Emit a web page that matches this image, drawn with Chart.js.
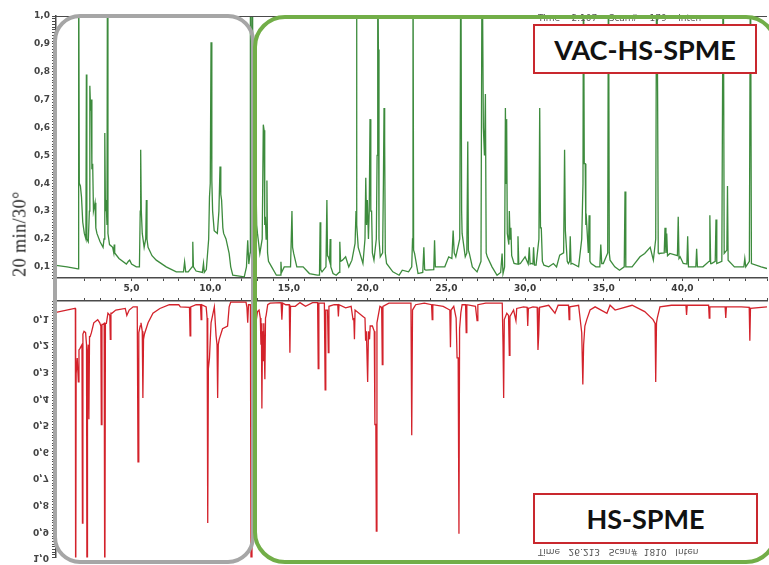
<!DOCTYPE html>
<html>
<head>
<meta charset="utf-8">
<script src="https://cdn.jsdelivr.net/npm/chart.js@4.4.1/dist/chart.umd.min.js"></script>
<style>
    body { margin: 0; background: #fff; }
    #stage { position: relative; width: 769px; height: 565px; overflow: hidden; background: #fff; }
    canvas { position: absolute; left: 0; }
    #vacChart { top: 0; }
    #hsChart { top: 290px; }
    .frame { position: absolute; box-sizing: border-box; pointer-events: none; }
    .grey { left: 53px; top: 14px; width: 202px; height: 550px; border: 4px solid #a6a6a6; border-radius: 27px; }
    .green { left: 253px; top: 15px; width: 525px; height: 549px; border: 4px solid #72ae48; border-radius: 32px; }
    .tag { position: absolute; box-sizing: border-box; background: #fff; border: 2px solid #c9282e;
           font-family: Lato, "Open Sans", sans-serif; font-weight: bold; font-size: 27px; color: #111;
           display: flex; align-items: center; justify-content: center; }
    .status { position: absolute; font-family: "DejaVu Sans", sans-serif; font-size: 9px; color: #555; white-space: pre; }
    #method { position: absolute; left: 20px; top: 234px; transform: translate(-50%, -50%) rotate(-90deg);
              font-family: "Liberation Serif", serif; font-size: 18px; color: #222; white-space: nowrap; letter-spacing: 0.5px; }
</style>
</head>
<body>
<div id="stage">
    <canvas id="vacChart" width="769" height="300"></canvas>
    <canvas id="hsChart" width="769" height="275"></canvas>
    <div class="status" style="left:538px; top:13px;">Time    2.107    Scan#    179    Inten</div>
    <div class="status" style="left:538px; top:547px; transform: scaleY(-1);">Time   26.213   Scan#  1810   Inten</div>
    <div class="tag" style="left:533px; top:24px; width:224px; height:50px;">VAC-HS-SPME</div>
    <div class="tag" style="left:533px; top:493px; width:225px; height:51px;">HS-SPME</div>
    <div class="frame grey"></div>
    <div class="frame green"></div>
    <div id="method">20 min/30°</div>
</div>
<script>
// retention time (min) and relative intensity; 1.3 = peak runs off scale
const vacTrace = [
    [0.2, 0.105], [0.9, 0.10], [1.6, 0.093], [1.63, 0.093], [1.65, 1.3], [1.68, 0.40], [1.75, 0.39],
    [1.82, 0.35], [1.9, 0.26], [2.0, 0.22], [2.1, 0.2], [2.13, 0.79], [2.16, 0.2], [2.25, 0.19],
    [2.32, 0.3], [2.35, 0.75], [2.4, 0.66], [2.44, 0.70], [2.48, 0.45], [2.53, 0.47], [2.58, 0.3],
    [2.68, 0.33], [2.73, 0.24], [2.8, 0.22], [3.0, 0.19], [3.19, 0.17], [3.25, 0.2], [3.3, 0.58],
    [3.34, 0.3], [3.38, 0.34], [3.44, 0.25], [3.47, 1.3], [3.5, 0.22], [3.6, 0.18], [3.8, 0.17],
    [3.87, 0.15], [3.9, 0.18], [3.93, 0.15], [4.2, 0.13], [4.67, 0.11], [4.8, 0.12], [4.88, 0.124],
    [5.0, 0.11], [5.3, 0.10], [5.5, 0.10], [5.55, 0.3], [5.58, 0.52], [5.62, 0.3], [5.68, 0.22],
    [5.8, 0.17], [5.9, 0.2], [5.94, 0.34], [5.98, 0.2], [6.05, 0.17], [6.3, 0.14], [6.57, 0.124],
    [7.2, 0.10], [7.84, 0.082], [8.3, 0.082], [8.37, 0.118], [8.44, 0.082], [8.6, 0.082], [8.85, 0.1],
    [8.89, 0.19], [8.93, 0.1], [9.1, 0.085], [9.5, 0.08], [9.57, 0.112], [9.62, 0.08], [9.75, 0.09],
    [9.9, 0.2], [9.95, 0.35], [10.0, 0.4], [10.05, 0.906], [10.1, 0.41], [10.15, 0.3], [10.25, 0.23],
    [10.45, 0.22], [10.55, 0.3], [10.62, 0.46], [10.67, 0.36], [10.72, 0.34], [10.8, 0.24],
    [10.85, 0.22], [11.0, 0.2], [11.2, 0.148], [11.3, 0.1], [11.43, 0.07], [12.16, 0.064], [12.3, 0.1],
    [12.38, 0.195], [12.45, 0.11], [12.53, 0.15], [12.55, 1.3], [12.6, 0.5], [12.65, 0.8], [12.68, 1.3],
    [12.72, 0.3], [12.85, 0.25], [12.9, 0.42], [12.95, 0.25], [13.0, 0.22], [13.15, 0.148], [13.3, 0.2],
    [13.37, 0.61], [13.42, 0.59], [13.46, 0.25], [13.5, 0.28], [13.55, 0.2], [13.6, 0.41], [13.64, 0.15],
    [13.7, 0.12], [13.9, 0.10], [14.2, 0.07], [14.45, 0.07], [14.49, 0.118], [14.53, 0.08], [14.7, 0.1],
    [15.1, 0.1], [15.19, 0.30], [15.23, 0.17], [15.3, 0.148], [15.5, 0.10], [15.9, 0.10], [16.3, 0.076],
    [16.8, 0.07], [16.94, 0.07], [16.98, 0.26], [17.02, 0.09], [17.1, 0.082], [17.35, 0.1], [17.41, 0.34],
    [17.45, 0.14], [17.5, 0.136], [17.58, 0.12], [17.62, 0.20], [17.66, 0.1], [17.8, 0.076], [18.0, 0.07],
    [18.18, 0.08], [18.23, 0.19], [18.28, 0.12], [18.4, 0.124], [18.6, 0.136], [18.8, 0.10], [19.0, 0.124],
    [19.2, 0.184], [19.26, 0.3], [19.29, 1.3], [19.32, 0.25], [19.4, 0.17], [19.7, 0.112], [19.83, 0.2],
    [19.88, 0.42], [19.93, 0.25], [19.98, 0.34], [20.05, 0.2], [20.1, 0.3], [20.15, 0.63], [20.2, 0.3],
    [20.25, 0.30], [20.3, 0.15], [20.4, 0.124], [20.55, 0.2], [20.6, 0.5], [20.64, 1.3], [20.68, 0.88],
    [20.72, 0.2], [20.8, 0.136], [20.95, 0.15], [21.0, 0.4], [21.04, 0.67], [21.08, 0.55], [21.12, 0.15],
    [21.2, 0.112], [21.6, 0.082], [22.0, 0.07], [22.2, 0.088], [22.6, 0.082], [22.8, 0.1], [22.85, 0.2],
    [22.88, 1.3], [22.92, 0.16], [22.98, 0.148], [23.2, 0.076], [23.5, 0.08], [23.57, 0.17], [23.62, 0.09],
    [23.7, 0.088], [24.2, 0.09], [24.25, 0.195], [24.3, 0.1], [24.4, 0.10], [24.9, 0.10], [25.15, 0.136],
    [25.35, 0.13], [25.43, 0.23], [25.5, 0.15], [25.6, 0.136], [25.85, 0.2], [25.92, 1.3], [25.97, 0.3],
    [26.0, 0.22], [26.2, 0.136], [26.3, 0.15], [26.36, 0.55], [26.4, 0.16], [26.46, 0.148], [26.65, 0.10],
    [26.95, 0.082], [27.2, 0.12], [27.27, 1.3], [27.35, 0.6], [27.42, 0.5], [27.48, 0.72], [27.53, 0.15],
    [27.6, 0.136], [27.9, 0.10], [28.22, 0.07], [28.45, 0.08], [28.54, 0.148], [28.6, 0.076], [28.7, 0.1],
    [28.75, 0.67], [28.8, 0.4], [28.83, 0.63], [28.87, 0.22], [28.9, 0.22], [28.97, 0.18], [29.0, 0.30],
    [29.05, 0.2], [29.1, 0.24], [29.15, 0.14], [29.3, 0.112], [29.5, 0.11], [29.55, 0.21], [29.6, 0.11],
    [29.7, 0.112], [30.0, 0.136], [30.2, 0.11], [30.27, 0.17], [30.32, 0.11], [30.4, 0.112], [30.5, 0.11],
    [30.54, 0.17], [30.6, 0.106], [30.7, 0.106], [30.88, 0.2], [30.93, 0.67], [30.98, 0.24], [31.03, 0.24],
    [31.1, 0.12], [31.2, 0.106], [31.5, 0.10], [31.8, 0.112], [32.0, 0.10], [32.2, 0.142], [32.45, 0.15],
    [32.51, 0.52], [32.56, 0.23], [32.6, 0.23], [32.68, 0.12], [32.75, 0.112], [32.83, 0.12], [32.87, 0.21],
    [32.92, 0.11], [33.0, 0.112], [33.4, 0.10], [33.6, 0.2], [33.68, 0.4], [33.71, 1.3], [33.76, 0.47],
    [33.82, 0.47], [33.86, 0.25], [33.88, 0.29], [33.95, 0.22], [34.02, 0.15], [34.07, 0.285], [34.12, 0.12],
    [34.2, 0.112], [34.5, 0.10], [34.75, 0.1], [34.81, 0.18], [34.87, 0.112], [34.97, 0.112], [35.25, 0.15],
    [35.3, 1.3], [35.35, 0.15], [35.4, 0.124], [35.7, 0.10], [36.0, 0.088], [36.3, 0.1], [36.35, 0.37],
    [36.4, 0.10], [36.8, 0.10], [37.3, 0.136], [37.6, 0.148], [37.95, 0.17], [38.15, 0.124], [38.3, 0.2],
    [38.36, 1.3], [38.42, 0.73], [38.46, 0.15], [38.5, 0.148], [38.84, 0.15], [38.89, 0.24], [38.95, 0.15],
    [39.0, 0.22], [39.05, 0.14], [39.2, 0.148], [39.68, 0.14], [39.73, 0.28], [39.78, 0.13], [39.85, 0.136],
    [40.05, 0.112], [40.28, 0.11], [40.33, 0.21], [40.38, 0.1], [40.5, 0.10], [40.85, 0.1], [40.9, 0.165],
    [40.95, 0.1], [41.3, 0.10], [41.69, 0.12], [41.74, 0.285], [41.79, 0.112], [41.85, 0.112], [42.08, 0.12],
    [42.13, 0.27], [42.18, 0.112], [42.5, 0.12], [42.59, 1.3], [42.65, 0.148], [42.7, 0.148], [42.82, 0.16],
    [42.86, 0.39], [42.9, 0.124], [43.3, 0.10], [43.9, 0.1], [43.96, 0.13], [44.02, 0.1], [44.25, 0.12],
    [44.32, 1.3], [44.38, 0.112], [45.0, 0.10], [45.37, 0.094]
];

// HS-SPME run, plotted downwards on a reversed axis
const hsTrace = [
    [0.2, 0.079], [1.39, 0.064], [1.43, 0.064], [1.45, 1.3], [1.48, 0.31], [1.55, 0.25], [1.62, 0.34],
    [1.66, 0.22], [1.72, 0.215], [1.85, 0.2], [1.88, 0.87], [1.91, 0.16], [1.98, 0.15], [2.08, 0.155],
    [2.14, 0.2], [2.17, 1.3], [2.2, 0.24], [2.25, 0.2], [2.29, 0.48], [2.33, 0.17], [2.37, 0.17],
    [2.45, 0.155], [2.6, 0.118], [2.85, 0.106], [2.98, 0.118], [3.05, 0.13], [3.08, 0.50], [3.12, 0.124],
    [3.18, 0.124], [3.26, 0.12], [3.3, 1.3], [3.34, 0.12], [3.4, 0.12], [3.5, 0.082], [3.62, 0.09],
    [3.65, 0.18], [3.69, 0.082], [3.75, 0.082], [4.0, 0.07], [4.6, 0.064], [4.7, 0.09], [4.85, 0.07],
    [5.1, 0.058], [5.36, 0.058], [5.41, 0.64], [5.46, 0.155], [5.55, 0.13], [5.6, 0.118], [5.68, 0.15],
    [5.72, 0.40], [5.76, 0.18], [5.82, 0.16], [6.05, 0.118], [6.36, 0.082], [6.8, 0.064], [7.4, 0.05],
    [8.0, 0.05], [8.1, 0.058], [8.68, 0.06], [8.72, 0.167], [8.76, 0.058], [9.1, 0.05], [9.38, 0.05],
    [9.42, 0.106], [9.46, 0.05], [9.74, 0.058], [9.8, 0.1], [9.84, 0.87], [9.88, 0.29], [9.95, 0.25],
    [10.05, 0.118], [10.26, 0.058], [10.37, 0.167], [10.43, 0.2], [10.47, 0.40], [10.51, 0.2],
    [10.57, 0.18], [10.78, 0.14], [11.1, 0.13], [11.2, 0.058], [11.3, 0.04], [12.27, 0.04], [12.33, 0.06],
    [12.38, 0.118], [12.43, 0.05], [12.55, 0.05], [12.6, 1.3], [12.65, 0.13], [12.9, 0.118], [13.0, 0.076],
    [13.1, 0.07], [13.18, 0.1], [13.22, 0.20], [13.25, 0.12], [13.28, 0.44], [13.32, 0.15], [13.36, 0.26],
    [13.4, 0.12], [13.47, 0.33], [13.51, 0.1], [13.55, 0.09], [13.65, 0.05], [13.8, 0.044], [14.5, 0.042],
    [14.55, 0.106], [14.6, 0.044], [14.8, 0.05], [15.02, 0.05], [15.06, 0.23], [15.1, 0.056], [15.4, 0.056],
    [15.7, 0.042], [16.05, 0.056], [16.5, 0.042], [16.82, 0.042], [16.86, 0.29], [16.9, 0.044],
    [17.25, 0.044], [17.3, 0.37], [17.34, 0.07], [17.45, 0.07], [17.5, 0.23], [17.54, 0.056], [17.87, 0.05],
    [18.1, 0.05], [18.14, 0.094], [18.18, 0.05], [18.6, 0.062], [18.95, 0.056], [19.07, 0.106], [19.12, 0.1],
    [19.16, 0.18], [19.2, 0.07], [19.7, 0.094], [19.83, 0.1], [19.87, 0.185], [19.92, 0.15], [20.0, 0.34],
    [20.05, 0.15], [20.12, 0.18], [20.16, 0.13], [20.3, 0.13], [20.42, 0.15], [20.46, 0.5], [20.52, 0.5],
    [20.55, 0.90], [20.59, 0.118], [20.78, 0.056], [20.89, 0.06], [20.93, 0.275], [20.97, 0.056],
    [21.35, 0.044], [22.0, 0.044], [22.75, 0.044], [22.8, 0.54], [22.85, 0.07], [23.05, 0.05], [23.6, 0.044],
    [24.06, 0.05], [24.1, 0.106], [24.14, 0.05], [24.8, 0.056], [25.22, 0.07], [25.26, 0.21], [25.3, 0.07],
    [25.47, 0.056], [25.62, 0.1], [25.68, 0.25], [25.75, 0.25], [25.8, 0.91], [25.84, 0.14], [25.92, 0.08],
    [26.0, 0.05], [26.22, 0.05], [26.26, 0.155], [26.3, 0.05], [26.85, 0.056], [26.95, 0.11], [27.0, 0.05],
    [27.5, 0.044], [28.55, 0.044], [28.6, 0.2], [28.64, 0.40], [28.68, 0.106], [28.84, 0.082], [28.95, 0.09],
    [29.0, 0.24], [29.04, 0.094], [29.27, 0.07], [29.42, 0.11], [29.47, 0.064], [29.9, 0.058], [30.13, 0.06],
    [30.17, 0.13], [30.21, 0.064], [30.5, 0.058], [30.77, 0.06], [30.82, 0.22], [30.87, 0.16], [30.92, 0.06],
    [31.5, 0.052], [31.9, 0.082], [32.1, 0.052], [32.76, 0.052], [32.8, 0.106], [32.84, 0.058], [33.4, 0.052],
    [33.6, 0.155], [33.67, 0.35], [33.72, 0.2], [33.8, 0.13], [33.92, 0.106], [34.13, 0.07], [34.45, 0.058],
    [35.2, 0.082], [35.4, 0.052], [35.72, 0.07], [36.8, 0.052], [37.6, 0.076], [38.13, 0.106], [38.26, 0.12],
    [38.3, 0.34], [38.35, 0.118], [38.4, 0.1], [38.57, 0.058], [39.3, 0.052], [40.22, 0.052], [40.26, 0.088],
    [40.3, 0.052], [41.0, 0.052], [41.66, 0.052], [41.7, 0.10], [41.74, 0.058], [42.71, 0.058], [42.75, 0.10],
    [42.79, 0.058], [43.74, 0.058], [44.24, 0.06], [44.28, 0.185], [44.32, 0.064], [45.37, 0.058]
];

const xTickValues = [5, 10, 15, 20, 25, 30, 35, 40, 45];
const xTickLabels = ['5,0', '10,0', '15,0', '20,0', '25,0', '30,0', '35,0', '40,0', '45,0'];
const yTickValues = [0.1, 0.2, 0.3, 0.4, 0.5, 0.6, 0.7, 0.8, 0.9, 1.0];
const yTickLabels = ['0,1', '0,2', '0,3', '0,4', '0,5', '0,6', '0,7', '0,8', '0,9', '1,0'];

const tickFont = { family: 'DejaVu Sans', size: 9, weight: 'bold' };
const axisColor = '#4a4a4a';

function labelFor(values, labels, v) {
    const i = values.findIndex(t => Math.abs(t - v) < 1e-6);
    return i >= 0 ? labels[i] : '';
}

function toPoints(trace) {
    return trace.map(p => ({ x: p[0], y: p[1] }));
}

// thin frame line along the top of the upper panel
const topFrame = {
    id: 'topFrame',
    afterDraw(chart) {
        const a = chart.chartArea, ctx = chart.ctx;
        ctx.save();
        ctx.strokeStyle = axisColor;
        ctx.lineWidth = 1;
        ctx.beginPath();
        ctx.moveTo(a.left, a.top + 0.5);
        ctx.lineTo(a.right, a.top + 0.5);
        ctx.stroke();
        ctx.restore();
    }
};

// the lower panel prints its axis numbers upside down (mirrored)
const mirroredLabels = {
    id: 'mirroredLabels',
    afterDraw(chart) {
        const y = chart.scales.y, ctx = chart.ctx;
        ctx.save();
        ctx.font = 'bold 9px "DejaVu Sans"';
        ctx.fillStyle = '#444';
        ctx.textAlign = 'right';
        ctx.textBaseline = 'middle';
        yTickValues.forEach((v, i) => {
            ctx.save();
            ctx.translate(y.right - 7, y.getPixelForValue(v));
            ctx.scale(1, -1);
            ctx.fillText(yTickLabels[i], 0, 0);
            ctx.restore();
        });
        ctx.restore();
    }
};

function baseScales(yMin, reverse, xPos, xHeight, showX) {
    return {
        x: {
            type: 'linear',
            position: xPos,
            min: 0.2,
            max: 45.37,
            afterFit: s => { s.height = xHeight; },
            ticks: {
                stepSize: 1,
                autoSkip: false,
                maxRotation: 0,
                padding: 2,
                font: tickFont,
                color: '#3a3a3a',
                callback: v => showX ? labelFor(xTickValues, xTickLabels, v) : ''
            },
            grid: { drawOnChartArea: false, tickLength: 3, color: axisColor },
            border: { color: axisColor, width: 1.5 }
        },
        y: {
            min: yMin,
            max: 1.0,
            reverse: reverse,
            afterFit: s => { s.width = 56; },
            ticks: {
                stepSize: 0.01,
                autoSkip: false,
                padding: 2,
                font: tickFont,
                color: '#444',
                callback: v => reverse ? '' : labelFor(yTickValues, yTickLabels, v)
            },
            grid: { drawOnChartArea: false, tickLength: 4, color: axisColor },
            border: { color: axisColor, width: 1.5 }
        }
    };
}

new Chart(document.getElementById('vacChart'), {
    type: 'line',
    data: {
        datasets: [{
            label: 'VAC-HS-SPME',
            data: toPoints(vacTrace),
            borderColor: '#3d8b3d',
            borderWidth: 1.3,
            pointRadius: 0,
            tension: 0,
            clip: 0
        }]
    },
    options: {
        responsive: false,
        animation: false,
        layout: { padding: { top: 16 } },
        plugins: { legend: { display: false }, tooltip: { enabled: false } },
        scales: baseScales(0.06, false, 'bottom', 22, true)
    },
    plugins: [topFrame]
});

new Chart(document.getElementById('hsChart'), {
    type: 'line',
    data: {
        datasets: [{
            label: 'HS-SPME',
            data: toPoints(hsTrace),
            borderColor: '#d3222b',
            borderWidth: 1.3,
            pointRadius: 0,
            tension: 0,
            clip: 0
        }]
    },
    options: {
        responsive: false,
        animation: false,
        plugins: { legend: { display: false }, tooltip: { enabled: false } },
        scales: baseScales(0.036, true, 'top', 11, false)
    },
    plugins: [mirroredLabels]
});
</script>
</body>
</html>
